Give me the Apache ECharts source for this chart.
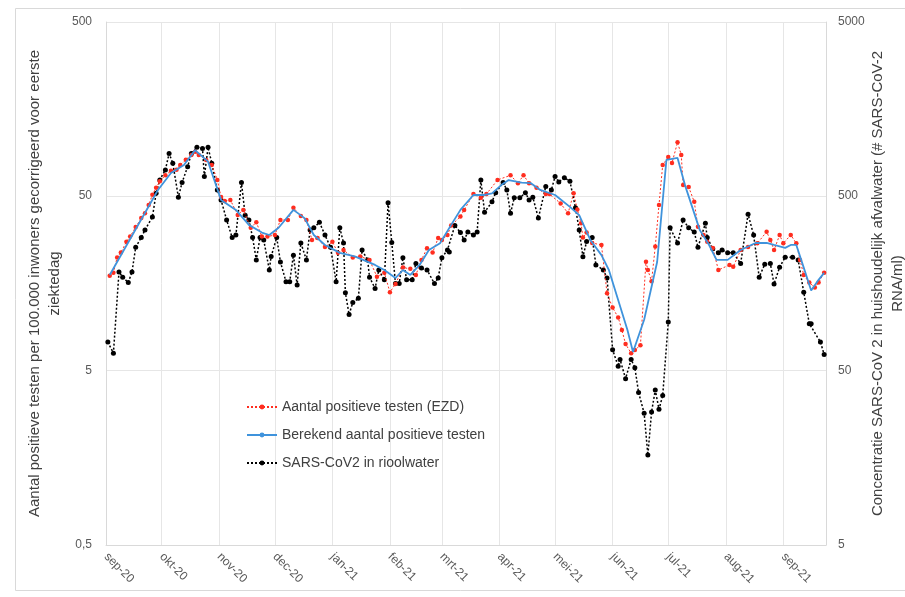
<!DOCTYPE html>
<html>
<head>
<meta charset="utf-8">
<script src="https://cdn.jsdelivr.net/npm/echarts@6/dist/echarts.min.js"></script>
<style>
html, body { margin: 0; padding: 0; background: #fff; }
#chart { width: 905px; height: 597px; }
</style>
</head>
<body>
<div id="chart"></div>
<script>
// dag-index vanaf 1 sep 2020
var testDays = [2, 4, 6, 8, 11, 13, 16, 19, 21, 23, 25, 27, 29, 32, 35, 38, 40, 43, 46, 48, 50, 54, 57, 60, 62, 64, 67, 71, 74, 78, 81, 84, 87, 91, 94, 98, 101, 105, 108, 111, 114, 118, 122, 125, 128, 133, 137, 142, 146, 150, 153, 156, 160, 164, 167, 170, 173, 176, 179, 181, 184, 186, 191, 193, 198, 202, 205, 211, 218, 222, 225, 228, 232, 237, 239, 245, 249, 252, 254, 256, 257, 259, 262, 267, 270, 273, 276, 278, 280, 283, 285, 288, 291, 292, 294, 296, 298, 300, 303, 305, 308, 310, 311, 314, 317, 319, 322, 324, 327, 330, 336, 338, 342, 346, 351, 356, 358, 360, 363, 365, 369, 372, 374, 376, 379, 382, 384, 387];
var testValues = [17.5, 18.2, 22.3, 23.8, 27.4, 29.4, 33.3, 37.5, 40, 44.6, 51, 56, 61, 66, 70, 71, 75.7, 81, 86.4, 90, 86.4, 80.9, 75.7, 62.1, 49.5, 47, 47.7, 39.1, 41.8, 33, 35.5, 29.4, 29.4, 30, 36.6, 36.6, 43, 38.5, 36.6, 28.1, 28.8, 25.6, 27.4, 23.7, 24.6, 22.3, 22.6, 21.6, 17.3, 18.2, 14.1, 15.7, 19.5, 19.2, 17.7, 21.6, 25.2, 23.8, 28.8, 28.1, 30, 34, 38.3, 41.8, 51.5, 49, 51.5, 62.1, 66, 59.5, 66, 59.5, 56, 51.5, 51.5, 45.5, 40, 52, 42, 35, 29, 31, 27, 26.3, 13.9, 11.5, 10.1, 8.56, 7.1, 6.3, 6.57, 7.0, 21.1, 18.9, 16.3, 25.8, 44.6, 75.7, 84, 77.6, 102, 86.4, 58.1, 56.5, 46.5, 33.5, 30, 27.4, 25.3, 18.9, 20.2, 19.7, 24.6, 25.6, 26.9, 31.3, 28.1, 24.6, 30, 26.9, 30, 26.9, 21.6, 17.7, 16, 15, 16, 18.2];

var modelDays = [2, 28, 35, 42, 48, 55, 62, 70, 77, 84, 88, 93, 101, 107, 112, 118, 126, 134, 145, 150, 156, 160, 164, 169, 174, 180, 186, 191, 198, 204, 208, 213, 217, 224, 229, 234, 242, 250, 255, 261, 267, 271, 281, 284, 290, 297, 302, 308, 312, 320, 325, 329, 335, 342, 350, 356, 360, 366, 369, 372, 376, 380, 384, 387];
var modelValues = [17.7, 54.4, 68, 75.7, 92, 79, 47.7, 41.8, 34.3, 31, 30, 33, 41.8, 37.5, 30, 26.3, 23.7, 22.6, 20.2, 18.9, 17, 18.9, 17.7, 20.2, 24.6, 26.9, 34.3, 41.8, 50.9, 50.9, 52, 58, 62, 60, 59.5, 54.4, 50.9, 43.5, 39, 28.1, 23, 18.9, 8.56, 6.4, 9.8, 21, 81, 83, 58, 32, 26.3, 21.6, 21.6, 24.6, 27, 27, 26.3, 25.3, 26.3, 26.3, 19.5, 14.4, 16.6, 18.2];

var sewerDays = [1, 4, 7, 9, 12, 14, 16, 19, 21, 25, 27, 29, 32, 34, 36, 39, 41, 44, 46, 49, 52, 53, 55, 57, 60, 62, 65, 68, 70, 73, 75, 77, 79, 81, 83, 85, 88, 89, 92, 94, 97, 99, 101, 103, 105, 108, 110, 112, 115, 118, 121, 124, 126, 128, 129, 131, 133, 136, 138, 141, 142, 145, 147, 150, 152, 154, 156, 158, 160, 162, 165, 167, 170, 173, 177, 179, 181, 184, 185, 188, 191, 193, 195, 198, 200, 202, 204, 208, 210, 214, 216, 218, 220, 223, 226, 228, 230, 233, 237, 240, 242, 244, 247, 250, 253, 255, 257, 259, 262, 264, 268, 270, 273, 276, 277, 280, 283, 285, 287, 290, 292, 294, 296, 298, 300, 303, 304, 308, 311, 314, 317, 319, 323, 324, 327, 330, 332, 335, 338, 342, 346, 349, 352, 355, 358, 360, 363, 366, 370, 373, 376, 379, 380, 385, 387];
var sewerValues = [73, 63, 184, 172, 160, 184, 255, 290, 321, 380, 520, 621, 709, 880, 775, 494, 600, 740, 880, 955, 940, 650, 955, 775, 544, 477, 366, 290, 300, 600, 390, 366, 290, 216, 290, 281, 189, 226, 290, 210, 162, 162, 230, 155, 270, 216, 321, 330, 355, 300, 255, 162, 330, 270, 140, 105, 123, 130, 246, 216, 172, 148, 189, 166, 460, 272, 158, 158, 222, 166, 166, 206, 194, 189, 158, 170, 222, 246, 240, 340, 310, 281, 312, 300, 312, 621, 405, 465, 525, 600, 544, 400, 490, 490, 525, 477, 494, 375, 570, 544, 650, 605, 640, 610, 430, 321, 225, 275, 290, 202, 189, 170, 66, 53, 58, 45, 58, 52, 37.5, 28.5, 16.4, 29, 38.7, 30, 36, 95, 330, 270, 366, 330, 312, 255, 350, 290, 250, 237, 246, 237, 237, 206, 395, 300, 172, 204, 206, 157, 196, 224, 224, 216, 141, 93, 93, 73, 62];

var monthNames = ['jan', 'feb', 'mrt', 'apr', 'mei', 'jun', 'jul', 'aug', 'sep', 'okt', 'nov', 'dec'];
var dayCount = 389;

var FONT = '"Liberation Sans", Arial, sans-serif';

var days = [];
for (var i = 0; i < dayCount; i++) {
	var d = new Date(Date.UTC(2020, 8, 1) + i * 86400000);
	var mm = d.getUTCMonth() + 1;
	var dd = d.getUTCDate();
	days.push(d.getUTCFullYear() + '-' + (mm < 10 ? '0' : '') + mm + '-' + (dd < 10 ? '0' : '') + dd);
}

function pairs(dayIdx, values) {
	var out = [];
	for (var i = 0; i < dayIdx.length; i++) {
		out.push([days[dayIdx[i]], values[i]]);
	}
	return out;
}

function isMonthStart(index, value) {
	return value.slice(8) === '01';
}

function monthLabel(value) {
	return monthNames[parseInt(value.slice(5, 7), 10) - 1] + '-' + value.slice(2, 4);
}

// 0.5 / 5 / 50 ... met komma
function numLabel(v) {
	return String(Number(v.toPrecision(1))).replace('.', ',');
}

var chart = echarts.init(document.getElementById('chart'));

var option = {
	animation: false,
	textStyle: { fontFamily: FONT },
	graphic: [{
		type: 'rect',
		shape: { x: 15.5, y: 8.5, width: 900, height: 582 },
		style: { fill: 'none', stroke: '#d9d9d9', lineWidth: 1 },
		silent: true
	}],
	grid: { left: 106, right: 79, top: 22, bottom: 52, outerBoundsMode: 'none' },
	legend: {
		orient: 'vertical',
		left: 241,
		top: 395,
		itemGap: 14,
		itemWidth: 30,
		itemHeight: 6,
		textStyle: { fontFamily: FONT, fontSize: 14, color: '#404040' },
		data: ['Aantal positieve testen (EZD)', 'Berekend aantal positieve testen', 'SARS-CoV2 in rioolwater']
	},
	xAxis: {
		type: 'category',
		data: days,
		boundaryGap: false,
		axisLine: { lineStyle: { color: '#d9d9d9' } },
		axisTick: { show: false },
		axisLabel: {
			interval: isMonthStart,
			rotate: -45,
			formatter: monthLabel,
			color: '#595959',
			fontFamily: FONT,
			fontSize: 12,
			margin: 10
		},
		splitLine: { show: true, interval: isMonthStart, lineStyle: { color: '#e6e6e6' } }
	},
	yAxis: [{
		type: 'log',
		logBase: 10,
		min: 0.5,
		max: 500,
		interval: 1,
		name: 'Aantal positieve testen per 100.000 inwoners gecorrigeerd voor eerste\nziektedag',
		nameLocation: 'middle',
		nameRotate: 90,
		nameGap: 41,
		nameMoveOverlap: false,
		nameTextStyle: { fontFamily: FONT, fontSize: 15, color: '#404040', lineHeight: 20 },
		axisLine: { show: true, lineStyle: { color: '#d9d9d9' } },
		axisTick: { show: false },
		axisLabel: { formatter: numLabel, color: '#595959', fontFamily: FONT, fontSize: 12, margin: 14 },
		splitLine: { show: true, lineStyle: { color: '#e6e6e6' } }
	}, {
		type: 'log',
		logBase: 10,
		min: 5,
		max: 5000,
		interval: 1,
		position: 'right',
		name: 'Concentratie SARS-CoV 2 in huishoudelijk afvalwater (# SARS-CoV-2\nRNA/ml)',
		nameLocation: 'middle',
		nameRotate: 90,
		nameGap: 42,
		nameMoveOverlap: false,
		nameTextStyle: { fontFamily: FONT, fontSize: 15, color: '#404040', lineHeight: 20 },
		axisLine: { show: true, lineStyle: { color: '#d9d9d9' } },
		axisTick: { show: false },
		axisLabel: { formatter: numLabel, color: '#595959', fontFamily: FONT, fontSize: 12, margin: 12 },
		splitLine: { show: false }
	}],
	series: [{
		name: 'SARS-CoV2 in rioolwater',
		type: 'line',
		yAxisIndex: 1,
		data: pairs(sewerDays, sewerValues),
		symbol: 'circle',
		symbolSize: 5,
		showAllSymbol: true,
		itemStyle: { color: '#000000' },
		lineStyle: { color: '#000000', width: 1.5, type: [2, 2] },
		z: 2
	}, {
		name: 'Aantal positieve testen (EZD)',
		type: 'line',
		data: pairs(testDays, testValues),
		symbol: 'circle',
		symbolSize: 4.5,
		showAllSymbol: true,
		itemStyle: { color: '#ff2d1f' },
		lineStyle: { color: '#ff2d1f', width: 1, type: [2, 2] },
		z: 3
	}, {
		name: 'Berekend aantal positieve testen',
		type: 'line',
		data: pairs(modelDays, modelValues),
		showSymbol: false,
		symbol: 'none',
		itemStyle: { color: '#3f93dc' },
		lineStyle: { color: '#3f93dc', width: 1.8 },
		z: 4
	}]
};

chart.setOption(option);
</script>
</body>
</html>
